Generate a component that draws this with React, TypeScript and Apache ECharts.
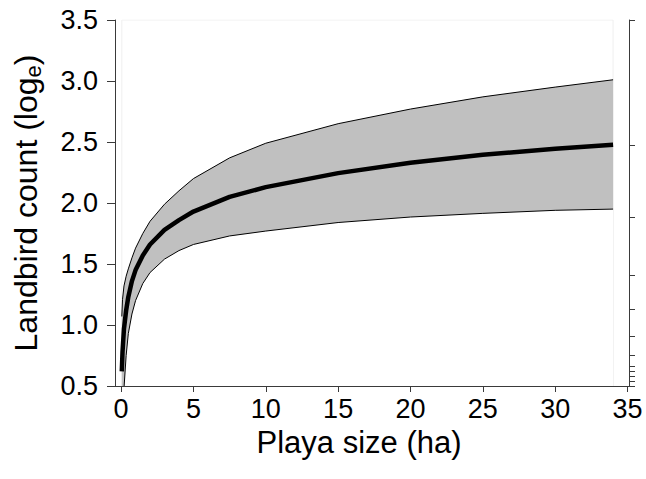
import React, { useEffect, useRef } from "react";
import * as echarts from "echarts";

// Playa size (ha)
const xValues = [0.05, 0.1, 0.2, 0.35, 0.5, 0.75, 1, 1.5, 2, 3, 4, 5, 7.5, 10, 15, 20, 25, 30, 34];
// Fitted landbird count (log_e)
const meanValues = [0.62, 0.78, 0.97, 1.12, 1.23, 1.36, 1.45, 1.57, 1.66, 1.78, 1.86, 1.93, 2.05, 2.13, 2.245, 2.33, 2.395, 2.445, 2.477];
// Upper confidence limit
const upperValues = [1.07, 1.21, 1.32, 1.4, 1.46, 1.55, 1.63, 1.75, 1.85, 1.99, 2.1, 2.2, 2.37, 2.49, 2.65, 2.77, 2.87, 2.95, 3.01];
// Lower confidence limit
const lowerValues = [-0.1, 0.2, 0.48, 0.75, 0.93, 1.09, 1.2, 1.34, 1.43, 1.54, 1.61, 1.66, 1.73, 1.77, 1.84, 1.885, 1.915, 1.94, 1.95];

const xTicks = [0, 5, 10, 15, 20, 25, 30, 35];
const rightTicks = [3.5, 2.47, 1.885, 1.41, 1.13, 0.91, 0.755, 0.66, 0.62, 0.58, 0.54, 0.5];
const frameCorners = [[0.05, 0.5], [0.05, 3.5], [34, 3.5], [34, 0.5]];

const FONT = "'Liberation Sans', Arial, Helvetica, sans-serif";
const AXIS = "#3a3a3a";

export default function App() {
  const ref = useRef<HTMLDivElement>(null);
  useEffect(() => {
    if (!ref.current) return;
    const chart = echarts.init(ref.current, null, { renderer: "svg" });
    const lowerData = xValues.map((x, i) => [x, lowerValues[i]]);
    const upperData = xValues.map((x, i) => [x, upperValues[i]]);
    const meanData = xValues.map((x, i) => [x, meanValues[i]]);
    chart.setOption({
      animation: false,
      backgroundColor: "#ffffff",
      textStyle: { fontFamily: FONT },
      grid: { left: 115, right: 17, top: 20, bottom: 93, containLabel: false },
      xAxis: {
        type: "value",
        z: 10,
        min: -0.42,
        max: 35.1,
        name: "Playa size (ha)",
        nameLocation: "middle",
        nameGap: 40,
        nameTextStyle: { fontSize: 31, color: "#000", fontFamily: FONT, padding: [0, 26, 0, 0] },
        axisLine: { show: true, onZero: false, lineStyle: { color: AXIS, width: 1 } },
        axisTick: { show: true, inside: false, length: 6, customValues: xTicks, lineStyle: { color: AXIS } },
        axisLabel: { customValues: xTicks, fontSize: 27, color: "#000", margin: 9, fontFamily: FONT },
        splitLine: { show: false },
      },
      yAxis: [
        {
          type: "value",
          z: 10,
          min: 0.5,
          max: 3.5,
          interval: 0.5,
          name: "Landbird count (log{sub|e})",
          nameLocation: "middle",
          nameRotate: 90,
          nameGap: 71,
          nameTextStyle: {
            fontSize: 32,
            color: "#000",
            fontFamily: FONT,
            lineHeight: 36,
            rich: {
              sub: { fontSize: 22, lineHeight: 16, verticalAlign: "bottom", color: "#000", fontFamily: FONT },
            },
          },
          axisLine: { show: true, onZero: false, lineStyle: { color: AXIS, width: 1 } },
          axisTick: { show: true, inside: false, length: 8, lineStyle: { color: AXIS } },
          axisLabel: {
            fontSize: 27,
            color: "#000",
            margin: 17,
            fontFamily: FONT,
            formatter: (v: number) => v.toFixed(1),
          },
          splitLine: { show: false },
        },
        {
          type: "value",
          z: 10,
          position: "right",
          min: 0.5,
          max: 3.5,
          axisLine: { show: true, onZero: false, lineStyle: { color: AXIS, width: 1 } },
          axisTick: { show: true, inside: false, length: 6, customValues: rightTicks, lineStyle: { color: AXIS } },
          axisLabel: { show: false },
          splitLine: { show: false },
        },
      ],
      series: [
        {
          type: "line",
          data: frameCorners,
          symbol: "none",
          lineStyle: { color: "#efefef", width: 1 },
          silent: true,
          z: 1,
        },
        {
          type: "line",
          name: "upper",
          data: upperData,
          symbol: "none",
          smooth: false,
          lineStyle: { color: "#000", width: 1 },
          areaStyle: { color: "#c0c0c0", opacity: 1, origin: "start" },
          z: 2,
        },
        {
          type: "line",
          name: "lower",
          data: lowerData,
          symbol: "none",
          smooth: false,
          lineStyle: { color: "#000", width: 1 },
          areaStyle: { color: "#ffffff", opacity: 1, origin: "start" },
          z: 3,
        },
        {
          type: "line",
          name: "mean",
          data: meanData,
          symbol: "none",
          smooth: false,
          lineStyle: { color: "#000", width: 4.5, cap: "butt", join: "round" },
          z: 4,
        },
      ],
    });
    return () => chart.dispose();
  }, []);
  return (
    <div
      ref={ref}
      style={{ position: "fixed", left: 0, top: 0, width: 646, height: 479, background: "#fff" }}
    />
  );
}
